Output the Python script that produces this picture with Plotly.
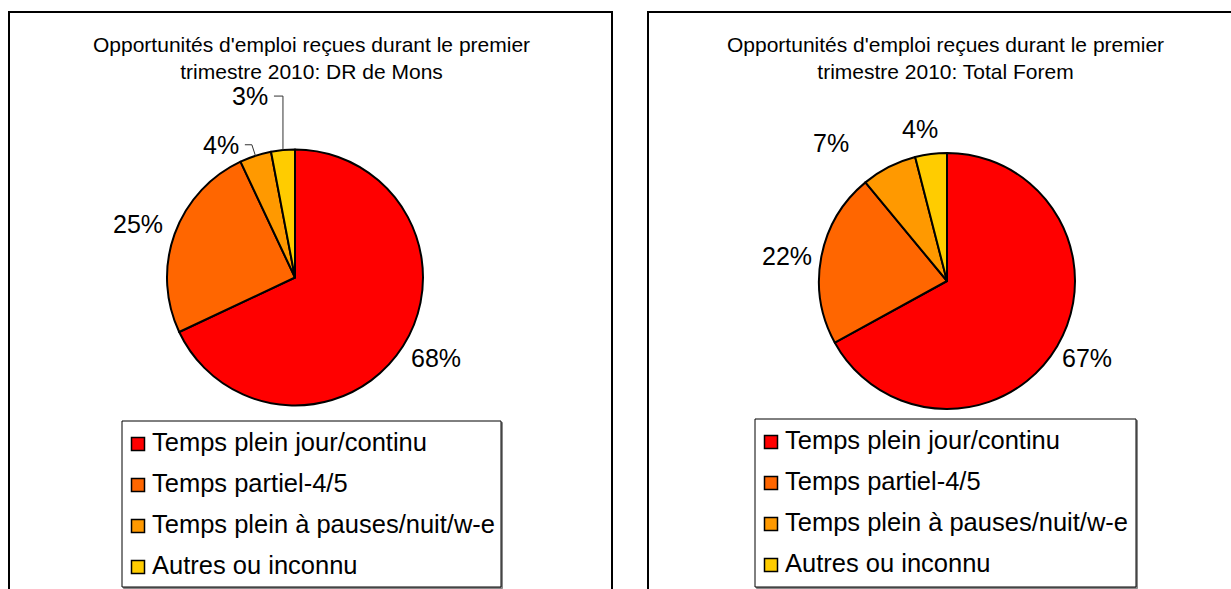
import math
import plotly.graph_objects as go

# ---------------- data ----------------
categories = ["Temps plein jour/continu", "Temps partiel-4/5",
              "Temps plein à pauses/nuit/w-e", "Autres ou inconnu"]
mons_values = [68, 25, 4, 3]
forem_values = [67, 22, 7, 4]
chart_titles = ["Opportunités d'emploi reçues durant le premier<br>trimestre 2010: DR de Mons",
                "Opportunités d'emploi reçues durant le premier<br>trimestre 2010: Total Forem"]

# ---------------- style ----------------
W, H = 1231, 589
colors = ["#FF0000", "#FF6600", "#FF9900", "#FFCC00"]
FONT = "Liberation Sans, Arial, sans-serif"

panels = [
    dict(values=mons_values, title=chart_titles[0], cx=295, cy=277.5, r=128,
         box=(9, 612), title_x=311, title_y=58.5, legend_box=(122, 501, 421, 587),
         # per-label placement: (kind, dx, dy) or leader (kind, rise, tail, radial)
         labels=[("free", 4, -7), ("free", -4, 2), ("leader", 11, 7, True), ("leader", 54, 9, False)]),
    dict(values=forem_values, title=chart_titles[1], cx=947, cy=281, r=128,
         box=(648, 1245), title_x=945, title_y=58.5, legend_box=(755, 1136, 419, 587),
         labels=[("free", 0, -6), ("free", 0, 5), ("free", -42, 7), ("free", -7, 9)]),
]


def px(x):
    return x / W


def py(y):
    return 1 - y / H


fig = go.Figure()
shapes = []
annotations = []

for i, p in enumerate(panels):
    cx, cy, r = p["cx"], p["cy"], p["r"]
    fig.add_trace(go.Pie(
        labels=categories, values=p["values"], sort=False, direction="clockwise",
        rotation=0, textinfo="none", showlegend=False,
        marker=dict(colors=colors, line=dict(color="black", width=2)),
        domain=dict(x=[px(cx - r), px(cx + r)], y=[py(cy + r), py(cy - r)]),
        hovertemplate="%{label}: %{value}%<extra></extra>",
    ))

    # outer frame
    bx0, bx1 = p["box"]
    shapes.append(dict(type="rect", xref="paper", yref="paper",
                       x0=px(bx0), x1=px(bx1), y0=py(H + 20), y1=py(12),
                       line=dict(color="black", width=2), layer="below"))

    # title
    annotations.append(dict(text=p["title"], x=px(p["title_x"]), y=py(p["title_y"]),
                            xref="paper", yref="paper", xanchor="center", yanchor="middle",
                            showarrow=False, font=dict(family=FONT, size=21, color="black")))

    # percentage labels computed from slice angles
    total = sum(p["values"])
    cum = 0
    for v, lab in zip(p["values"], p["labels"]):
        theta = 2 * math.pi * (cum + v / 2) / total
        cum += v
        s, c = math.sin(theta), math.cos(theta)
        txt = f"{round(100 * v / total)}%"
        if lab[0] == "free":
            f = 1.27
            x = cx + r * f * s + lab[1]
            y = cy - r * f * c + lab[2]
            annotations.append(dict(text=txt, x=px(x), y=py(y), xref="paper", yref="paper",
                                    xanchor="center", yanchor="middle", showarrow=False,
                                    font=dict(family=FONT, size=25, color="black")))
        else:
            _, rise, tail, radial = lab
            ex, ey = cx + r * s, cy - r * c
            if radial:
                k = rise / c
                elx, ely = ex + k * s, ey - rise
            else:
                elx, ely = ex, ey - rise
            endx = elx - tail
            shapes.append(dict(type="path", xref="paper", yref="paper",
                               path=f"M {px(ex)},{py(ey)} L {px(elx)},{py(ely)} L {px(endx)},{py(ely)}",
                               line=dict(color="#333333", width=1)))
            annotations.append(dict(text=txt, x=px(endx - 4), y=py(ely), xref="paper", yref="paper",
                                    xanchor="right", yanchor="middle", showarrow=False,
                                    font=dict(family=FONT, size=25, color="black")))

    # legend (drawn per panel)
    lx0, lx1, ly0, ly1 = p["legend_box"]
    shapes.append(dict(type="rect", xref="paper", yref="paper",
                       x0=px(lx0 + 1.5), x1=px(lx1 + 1.5), y0=py(ly1 + 1.5), y1=py(ly0 + 1.5),
                       line=dict(color="#888888", width=1), fillcolor="#888888"))
    shapes.append(dict(type="rect", xref="paper", yref="paper",
                       x0=px(lx0), x1=px(lx1), y0=py(ly1), y1=py(ly0),
                       line=dict(color="black", width=1), fillcolor="white"))
    for j, (cat, col) in enumerate(zip(categories, colors)):
        yc = ly0 + 23 + 41 * j
        sx = lx0 + 16
        shapes.append(dict(type="rect", xref="paper", yref="paper",
                           x0=px(sx - 6.5), x1=px(sx + 6.5), y0=py(yc + 6.5), y1=py(yc - 6.5),
                           line=dict(color="black", width=1.5), fillcolor=col))
        annotations.append(dict(text=cat, x=px(lx0 + 28), y=py(yc - 2), xref="paper", yref="paper",
                                xanchor="left", yanchor="middle", showarrow=False,
                                font=dict(family=FONT, size=25.5, color="black")))

fig.update_layout(
    width=W, height=H, margin=dict(l=0, r=0, t=0, b=0),
    paper_bgcolor="white", plot_bgcolor="white",
    shapes=shapes, annotations=annotations, showlegend=False,
)

fig.write_html("out.html", config={"displayModeBar": False},
               post_script="document.body.style.margin='0';")
